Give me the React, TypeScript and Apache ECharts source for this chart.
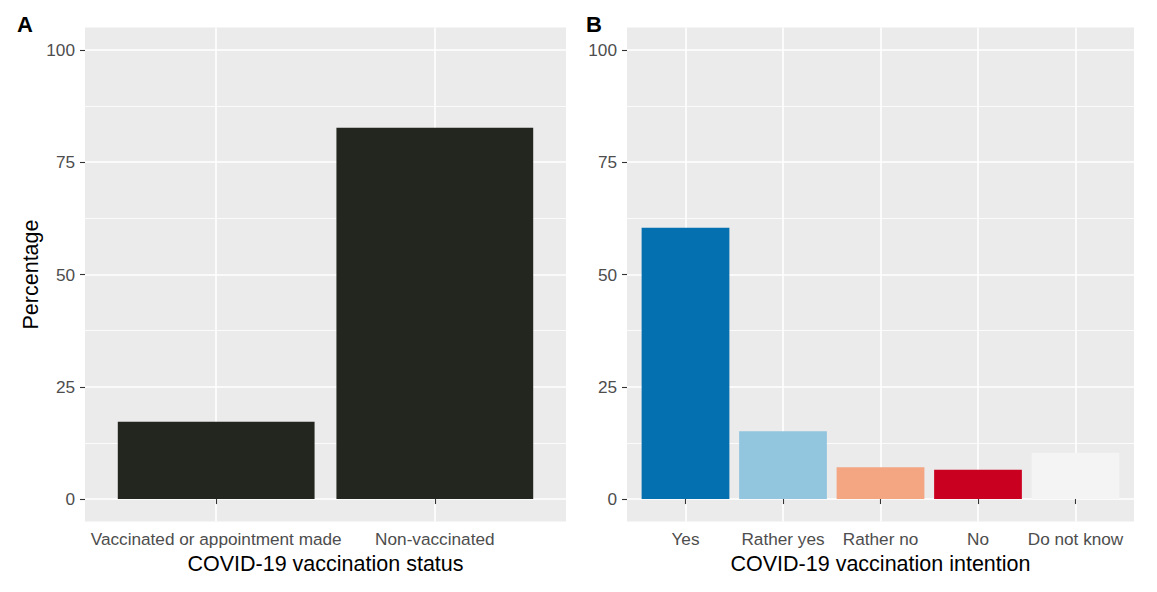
import React, { useEffect, useRef } from "react";
import * as echarts from "echarts";

const statusCategories = ["Vaccinated or appointment made", "Non-vaccinated"];
const statusValues = [17.2, 82.7];
const statusColors = ["#22261F", "#22261F"];

const intentionCategories = ["Yes", "Rather yes", "Rather no", "No", "Do not know"];
const intentionValues = [60.4, 15.1, 7.1, 6.5, 10.3];
const intentionColors = ["#0570B0", "#92C5DE", "#F4A582", "#CA0020", "#F4F4F4"];

const yMajorTicks = [0, 25, 50, 75, 100];
const yMinorTicks = [12.5, 37.5, 62.5, 87.5];
const panelTags = ["A", "B"];

const FONT = "Liberation Sans, Arial, Helvetica, sans-serif";
const PANEL_BG = "#EBEBEB";
const TICK_COLOR = "#333333";
const LABEL_COLOR = "#4D4D4D";

function xAxisFor(gridIndex: number, cats: string[], title: string) {
  const pos = cats.map((_, i) => i + 1);
  return {
    type: "value",
    gridIndex,
    min: 0.4,
    max: cats.length + 0.6,
    axisLine: { show: false },
    axisTick: {
      show: true,
      length: 5,
      customValues: pos,
      lineStyle: { color: TICK_COLOR, width: 1.1 },
    },
    axisLabel: {
      customValues: pos,
      margin: 8.5,
      color: LABEL_COLOR,
      fontSize: 17.2,
      fontFamily: FONT,
      formatter: (v: number) => cats[Math.round(v) - 1] ?? "",
    },
    splitLine: { show: true, lineStyle: { color: "#FFFFFF", width: 1.6 } },
    name: title,
    nameLocation: "middle",
    nameGap: 31,
    nameTextStyle: { color: "#000000", fontSize: 21.5, fontFamily: FONT },
  };
}

function yAxisMajor(gridIndex: number, title: string) {
  return {
    type: "value",
    gridIndex,
    min: -5,
    max: 105,
    axisLine: { show: false },
    axisTick: {
      show: true,
      length: 5,
      customValues: yMajorTicks,
      lineStyle: { color: TICK_COLOR, width: 1.1 },
    },
    axisLabel: {
      customValues: yMajorTicks,
      margin: 10,
      color: LABEL_COLOR,
      fontSize: 17.2,
      fontFamily: FONT,
    },
    splitLine: { show: true, lineStyle: { color: "#FFFFFF", width: 1.6 } },
    name: title,
    nameLocation: "middle",
    nameGap: 43,
    nameRotate: 90,
    nameTextStyle: { color: "#000000", fontSize: 21.5, fontFamily: FONT },
  };
}

function yAxisMinor(gridIndex: number) {
  return {
    type: "value",
    gridIndex,
    position: "left",
    min: -5,
    max: 105,
    axisLine: { show: false },
    axisTick: { show: false, customValues: yMinorTicks },
    axisLabel: { show: false, customValues: yMinorTicks },
    splitLine: { show: true, lineStyle: { color: "#FFFFFF", width: 0.8 } },
  };
}

function barSeries(idx: number, values: number[], colors: string[]) {
  return {
    type: "bar",
    xAxisIndex: idx,
    yAxisIndex: idx * 2,
    barWidth: "90%",
    z: 3,
    data: values.map((v, i) => ({ value: [i + 1, v], itemStyle: { color: colors[i] } })),
  };
}

export default function App() {
  const ref = useRef<HTMLDivElement>(null);
  useEffect(() => {
    if (!ref.current) return;
    const chart = echarts.init(ref.current, undefined, { renderer: "svg" });
    chart.setOption({
      animation: false,
      backgroundColor: "#FFFFFF",
      textStyle: { fontFamily: FONT },
      grid: [
        { left: 85, top: 27.5, width: 481, height: 494, show: true, backgroundColor: PANEL_BG, borderWidth: 0, containLabel: false },
        { left: 627, top: 27.5, width: 507, height: 494, show: true, backgroundColor: PANEL_BG, borderWidth: 0, containLabel: false },
      ],
      xAxis: [
        xAxisFor(0, statusCategories, "COVID-19 vaccination status"),
        xAxisFor(1, intentionCategories, "COVID-19 vaccination intention"),
      ],
      yAxis: [yAxisMajor(0, "Percentage"), yAxisMinor(0), yAxisMajor(1, ""), yAxisMinor(1)],
      series: [
        barSeries(0, statusValues, statusColors),
        barSeries(1, intentionValues, intentionColors),
      ],
      graphic: [
        { type: "text", left: 17, top: 13, style: { text: panelTags[0], font: `bold 22px ${FONT}`, fill: "#000000" } },
        { type: "text", left: 586, top: 13, style: { text: panelTags[1], font: `bold 22px ${FONT}`, fill: "#000000" } },
      ],
    });
    return () => chart.dispose();
  }, []);
  return (
    <div
      ref={ref}
      style={{ position: "fixed", left: 0, top: 0, width: 1157, height: 592 }}
    />
  );
}
